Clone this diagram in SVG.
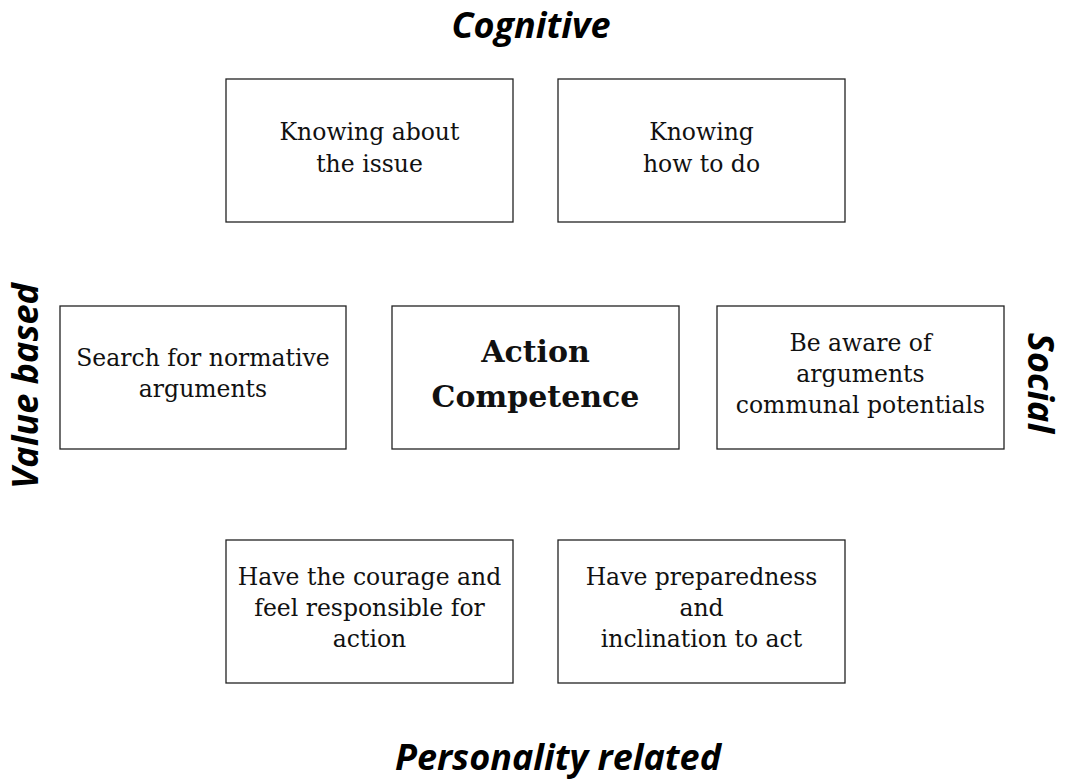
<svg xmlns="http://www.w3.org/2000/svg" width="1065" height="780" viewBox="0 0 1065 780">
<style>
.box{fill:#fff;stroke:#222;stroke-width:1.3}
.t{font-family:"DejaVu Serif","Liberation Serif",serif;font-size:23.5px;fill:#111;text-anchor:middle}
.c{font-family:"DejaVu Serif","Liberation Serif",serif;font-weight:bold;font-size:30px;fill:#111;text-anchor:middle}
.h{font-family:"Open Sans","DejaVu Sans",sans-serif;font-weight:bold;font-style:italic;font-size:36px;fill:#000;text-anchor:middle}
</style>
<rect width="1065" height="780" fill="#fff"/>
<g id="labels">
<text class="h" x="531" y="38">Cognitive</text>
<text class="h" x="558" y="770">Personality related</text>
<text class="h" transform="translate(38,386) rotate(-90)">Value based</text>
<text class="h" transform="translate(1028,383) rotate(90)">Social</text>
</g>
<g id="connectors"></g>
<g id="n1"><rect class="box" x="226" y="79" width="287" height="143"/>
<text class="t" x="369.5" y="140">Knowing about</text><text class="t" x="369.5" y="172">the issue</text></g>
<g id="n2"><rect class="box" x="558" y="79" width="287" height="143"/>
<text class="t" x="701.5" y="140">Knowing</text><text class="t" x="701.5" y="172">how to do</text></g>
<g id="n3"><rect class="box" x="60" y="306" width="286" height="143"/>
<text class="t" x="203" y="366">Search for normative</text><text class="t" x="203" y="397">arguments</text></g>
<g id="n4"><rect class="box" x="392" y="306" width="287" height="143"/>
<text class="c" x="535.5" y="362">Action</text><text class="c" x="535.5" y="407">Competence</text></g>
<g id="n5"><rect class="box" x="717" y="306" width="287" height="143"/>
<text class="t" x="860.5" y="351">Be aware of</text><text class="t" x="860.5" y="382">arguments</text><text class="t" x="860.5" y="413">communal potentials</text></g>
<g id="n6"><rect class="box" x="226" y="540" width="287" height="143"/>
<text class="t" x="369.5" y="585">Have the courage and</text><text class="t" x="369.5" y="616">feel responsible for</text><text class="t" x="369.5" y="647">action</text></g>
<g id="n7"><rect class="box" x="558" y="540" width="287" height="143"/>
<text class="t" x="701.5" y="585">Have preparedness</text><text class="t" x="701.5" y="616">and</text><text class="t" x="701.5" y="647">inclination to act</text></g>
</svg>
